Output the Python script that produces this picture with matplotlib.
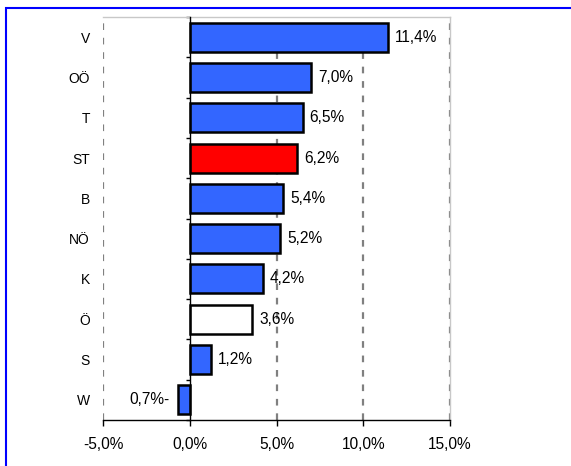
import matplotlib
matplotlib.use("Agg")
import matplotlib.pyplot as plt
from matplotlib.patches import Rectangle
import numpy as np

plt.rcParams['font.family'] = ['Liberation Sans', 'DejaVu Sans']

categories = ["V", "OÖ", "T", "ST", "B", "NÖ", "K", "Ö", "S", "W"]
values = [11.4, 7.0, 6.5, 6.2, 5.4, 5.2, 4.2, 3.6, 1.2, -0.7]
labels = ["11,4%", "7,0%", "6,5%", "6,2%", "5,4%", "5,2%", "4,2%", "3,6%", "1,2%", "0,7%-"]
colors = ["#3366FF", "#3366FF", "#3366FF", "#FF0000", "#3366FF", "#3366FF",
          "#3366FF", "#FFFFFF", "#3366FF", "#3366FF"]
xticks = [-5, 0, 5, 10, 15]
xticklabels = ["-5,0%", "0,0%", "5,0%", "10,0%", "15,0%"]

FS = 11.2

fig = plt.figure(figsize=(5.71, 4.66), dpi=100)
fig.patches.append(Rectangle((5.5/571, -0.1), 1.2, 1 - 7.5/466 + 0.1,
                             transform=fig.transFigure, fill=False,
                             edgecolor="#0000FF", linewidth=1.5))
ax = fig.add_axes([103/571, 1 - 420/466, (450-103)/571, (420-17)/466])

n = len(categories)
ypos = np.arange(n)[::-1]
ax.barh(ypos, values, height=0.72, color=colors, edgecolor="black", linewidth=1.8, zorder=3)

for y, v, lab in zip(ypos, values, labels):
    if v >= 0:
        ax.text(v + 0.4, y, lab, ha="left", va="center", fontsize=FS, zorder=4)
    else:
        ax.text(v - 0.45, y, lab, ha="right", va="center", fontsize=FS, zorder=4)

ax.set_xlim(-5, 15)
ax.set_ylim(-0.5, n - 0.5)
ax.set_xticks(xticks)
ax.set_xticklabels(xticklabels, fontsize=FS)
ax.tick_params(axis="x", direction="out", length=4, width=1, pad=8)

ax.set_yticks(ypos)
ax.set_yticklabels(categories, fontsize=FS)
ax.set_yticks(np.arange(-0.5, n, 1.0), minor=True)
ax.tick_params(axis="y", which="major", length=0, pad=72)
ax.tick_params(axis="y", which="minor", direction="out", length=3, width=1)

ax.spines["left"].set_position(("data", 0))
ax.spines["left"].set_color("black")
ax.spines["left"].set_linewidth(1)
ax.spines["left"].set_zorder(5)
ax.spines["bottom"].set_color("black")
ax.spines["bottom"].set_linewidth(1)
ax.spines["top"].set_color("#c8c8c8")
ax.spines["right"].set_color("#c8c8c8")
ax.spines["top"].set_linewidth(1)
ax.spines["right"].set_linewidth(1)

for xv in [-5, 5, 10, 15]:
    ax.axvline(xv, color="#808080", linewidth=1.6, linestyle=(0, (3, 3.5)), zorder=1)

fig.savefig("out.png", dpi=100)
